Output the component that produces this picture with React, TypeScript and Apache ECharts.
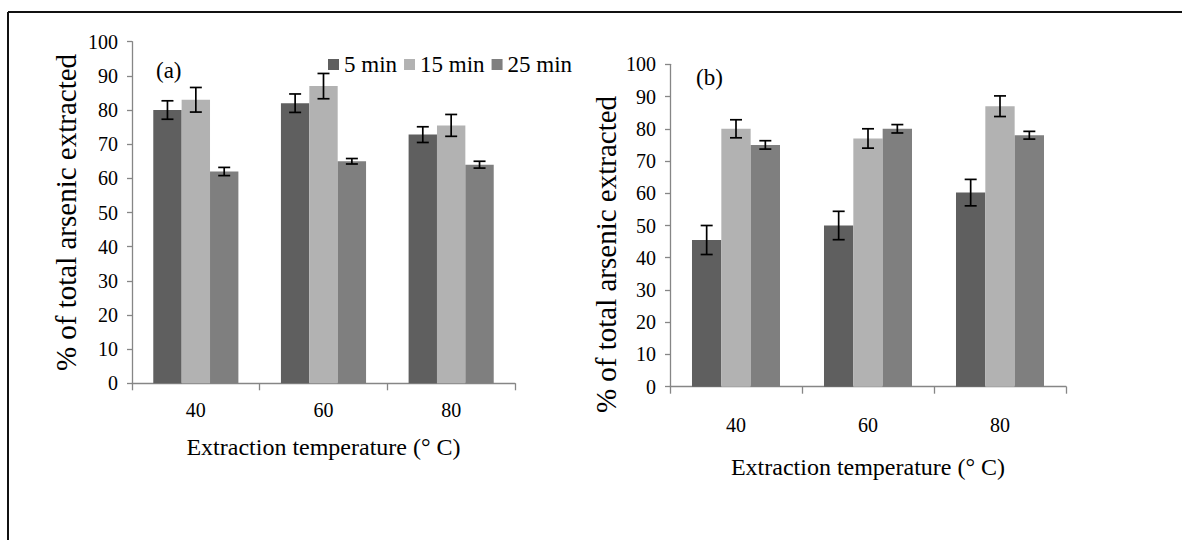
import React, { useEffect, useRef } from "react";
import * as echarts from "echarts";

const categories = ["40", "60", "80"];
const seriesNames = ["5 min", "15 min", "25 min"];
const yTicks = { min: 0, max: 100, interval: 10 };

// Panel (a)
const a5 = [80, 82, 72.8];
const a15 = [83, 87, 75.5];
const a25 = [62, 65, 64];
const a5Err = [2.7, 2.7, 2.3];
const a15Err = [3.6, 3.7, 3.2];
const a25Err = [1.2, 0.8, 1.0];

// Panel (b)
const b5 = [45.5, 50, 60.2];
const b15 = [80, 77, 87];
const b25 = [75, 80, 78];
const b5Err = [4.5, 4.4, 4.1];
const b15Err = [2.8, 3.0, 3.2];
const b25Err = [1.3, 1.3, 1.2];

const colors = ["#5f5f5f", "#b2b2b2", "#7f7f7f"];
const FONT = "'Liberation Serif', 'Times New Roman', serif";
const GAP = 1 / 3;

function errSeries(vals: number[], errs: number[], si: number, axis: number) {
  return {
    type: "custom",
    xAxisIndex: axis,
    yAxisIndex: axis,
    silent: true,
    z: 10,
    encode: { x: 0, y: 1 },
    data: vals.map((v, i) => [i, v, errs[i]]),
    renderItem: (_p: any, api: any) => {
      const ci = api.value(0);
      const v = api.value(1);
      const e = api.value(2);
      const c = api.coord([ci, v]);
      const cw = api.size([1, 0])[0];
      const bw = (cw * (1 - GAP)) / 3;
      const x = c[0] + (si - 1) * bw;
      const yt = api.coord([ci, v + e])[1];
      const yb = api.coord([ci, v - e])[1];
      const hw = 6;
      const style = { stroke: "#000", lineWidth: 1.7 };
      return {
        type: "group",
        children: [
          { type: "line", shape: { x1: x, y1: yt, x2: x, y2: yb }, style },
          { type: "line", shape: { x1: x - hw, y1: yt, x2: x + hw, y2: yt }, style },
          { type: "line", shape: { x1: x - hw, y1: yb, x2: x + hw, y2: yb }, style },
        ],
      };
    },
  };
}

function barSeries(name: string, vals: number[], si: number, axis: number) {
  return {
    type: "bar",
    name,
    xAxisIndex: axis,
    yAxisIndex: axis,
    data: vals,
    barGap: "0%",
    barCategoryGap: "33.33%",
    itemStyle: { color: colors[si] },
  };
}

function xAxisCfg(grid: number, gap: number, labelMargin: number) {
  return {
    type: "category",
    gridIndex: grid,
    data: categories,
    axisLine: { lineStyle: { color: "#868686", width: 1.3 } },
    axisTick: { show: true, length: 7, interval: 0, lineStyle: { color: "#868686", width: 1.3 } },
    axisLabel: { color: "#000", fontFamily: FONT, fontSize: 20, margin: labelMargin },
    name: "Extraction temperature (° C)",
    nameLocation: "middle",
    nameGap: gap,
    nameTextStyle: { color: "#000", fontFamily: FONT, fontSize: 24 },
  };
}

function yAxisCfg(grid: number, gap: number, padding: number[]) {
  return {
    type: "value",
    gridIndex: grid,
    min: yTicks.min,
    max: yTicks.max,
    interval: yTicks.interval,
    axisLine: { show: true, lineStyle: { color: "#868686", width: 1.3 } },
    axisTick: { show: true, length: 5, lineStyle: { color: "#868686", width: 1.3 } },
    splitLine: { show: false },
    axisLabel: { color: "#000", fontFamily: FONT, fontSize: 20, margin: 14 },
    name: "% of total arsenic extracted",
    nameLocation: "middle",
    nameRotate: 90,
    nameGap: gap,
    nameTextStyle: { color: "#000", fontFamily: FONT, fontSize: 29, padding },
  };
}

export default function App() {
  const ref = useRef<HTMLDivElement>(null);
  useEffect(() => {
    document.body.style.margin = "0";
    const chart = echarts.init(ref.current!, undefined, { renderer: "svg" });
    chart.setOption({
      animation: false,
      backgroundColor: "#fff",
      textStyle: { fontFamily: FONT },
      legend: {
        data: seriesNames,
        left: 323,
        top: 48,
        icon: "rect",
        itemWidth: 11,
        itemHeight: 11,
        itemGap: 7,
        textStyle: { color: "#000", fontFamily: FONT, fontSize: 23 },
      },
      grid: [
        { left: 132, top: 41.7, width: 383, height: 341.6, outerBoundsMode: "none" },
        { left: 670, top: 64.3, width: 396, height: 322.4, outerBoundsMode: "none" },
      ],
      xAxis: [xAxisCfg(0, 52, 17), xAxisCfg(1, 68, 28)],
      yAxis: [yAxisCfg(0, 52, [0, 0, 0, 0]), yAxisCfg(1, 50, [0, 58, 0, 0])],
      graphic: [
        { type: "line", shape: { x1: 8, y1: 12, x2: 1182, y2: 12 }, style: { stroke: "#111", lineWidth: 2 } },
        { type: "line", shape: { x1: 8, y1: 12, x2: 8, y2: 540 }, style: { stroke: "#111", lineWidth: 2 } },
        { type: "text", left: 156, top: 59, style: { text: "(a)", fontFamily: FONT, fontSize: 23, fill: "#000" } },
        { type: "text", left: 696, top: 66, style: { text: "(b)", fontFamily: FONT, fontSize: 23, fill: "#000" } },
      ],
      series: [
        barSeries(seriesNames[0], a5, 0, 0),
        barSeries(seriesNames[1], a15, 1, 0),
        barSeries(seriesNames[2], a25, 2, 0),
        barSeries(seriesNames[0], b5, 0, 1),
        barSeries(seriesNames[1], b15, 1, 1),
        barSeries(seriesNames[2], b25, 2, 1),
        errSeries(a5, a5Err, 0, 0),
        errSeries(a15, a15Err, 1, 0),
        errSeries(a25, a25Err, 2, 0),
        errSeries(b5, b5Err, 0, 1),
        errSeries(b15, b15Err, 1, 1),
        errSeries(b25, b25Err, 2, 1),
      ],
    });
    return () => chart.dispose();
  }, []);
  return <div ref={ref} style={{ width: 1182, height: 540 }} />;
}
